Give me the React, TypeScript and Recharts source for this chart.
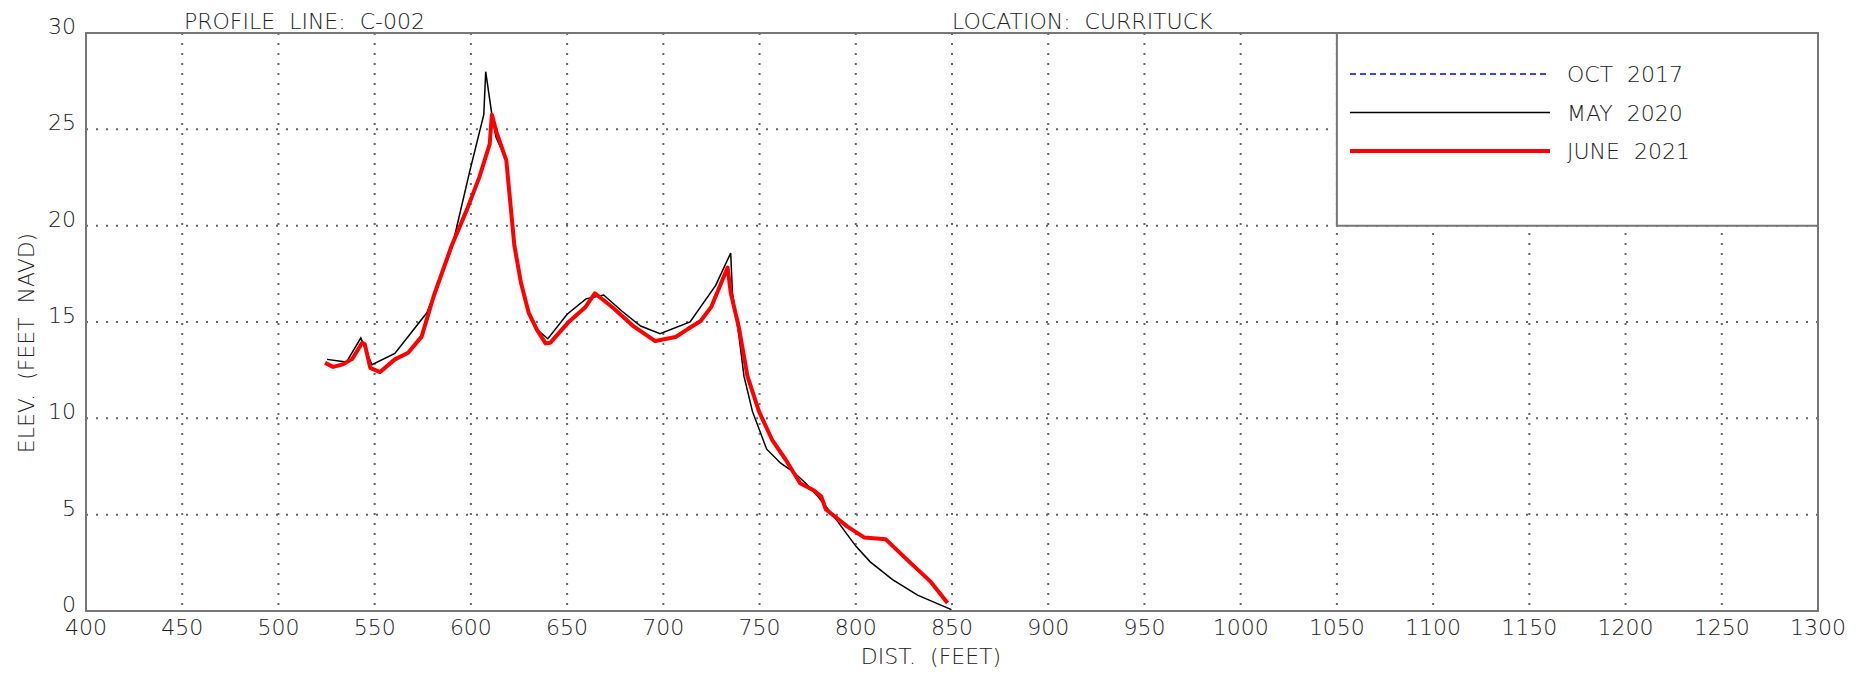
import React from 'react';
import { CartesianGrid, Line, LineChart, ReferenceArea, XAxis, YAxis } from 'recharts';

// axis ticks
const distTicks = [400, 450, 500, 550, 600, 650, 700, 750, 800, 850, 900, 950, 1000, 1050, 1100, 1150, 1200, 1250, 1300];
const elevTicks = [0, 5, 10, 15, 20, 25, 30];

// MAY 2020 survey
const may2020Dist = [
  525.3, 535.3, 542.8, 548.6, 560.5, 577.2, 590, 599.3, 606.7, 607.7, 611, 613, 618.4, 622.6, 626, 630, 634.5, 640,
  650, 659.8, 669, 678.4, 688.2, 698.3, 713.9, 727.2, 735, 735.9, 739.3, 741.9, 746.3, 753.7, 761, 767.9, 774, 780.1,
  788.7, 800, 807.5, 819.1, 832.1, 849.7
];
const may2020Elev = [
  13.06, 12.92, 14.17, 12.78, 13.37, 15.49, 18.8, 22.78, 25.76, 27.99, 25.7, 24.6, 23.4, 19.0, 17.1, 15.5, 14.6, 14.13,
  15.4, 16.2, 16.4, 15.57, 14.79, 14.39, 15.0, 16.9, 18.58, 16.53, 14.27, 12.19, 10.36, 8.4, 7.67, 7.19, 6.63, 5.97,
  4.9, 3.37, 2.55, 1.63, 0.82, 0.07
];

// JUNE 2021 survey
const june2021Dist = [
  524.2, 528.4, 533.5, 538.4, 543.5, 544.9, 547.7, 552.8, 560.5, 567.4, 574.4, 580.7, 590, 598.1, 604.4, 609.8, 610.9,
  613.3, 618.4, 622.6, 626, 630, 634.2, 638.8, 641.2, 650.5, 659.3, 664.4, 673.7, 684.2, 695.8, 706.4, 712.5, 719.4,
  725, 733.4, 735, 739.3, 743.7, 749.7, 756.7, 763.6, 771.1, 778.3, 782.1, 784.4, 795.7, 804.3, 815.6, 826.9, 839, 847.7
];
const june2021Elev = [
  12.88, 12.67, 12.8, 13.09, 13.92, 13.84, 12.62, 12.4, 13.06, 13.4, 14.24, 16.35, 18.96, 20.87, 22.52, 24.25, 25.76,
  24.86, 23.39, 18.96, 17.05, 15.49, 14.62, 13.89, 13.92, 14.97, 15.75, 16.49, 15.75, 14.8, 14.01, 14.22, 14.62, 15.05,
  15.8, 17.83, 16.53, 14.7, 12.19, 10.36, 8.85, 7.85, 6.63, 6.25, 5.94, 5.28, 4.38, 3.82, 3.72, 2.64, 1.51, 0.42
];

const legendNames = ['OCT  2017', 'MAY  2020', 'JUNE  2021'];

const FONT = 'DejaVu Sans';
const TEXT = '#222';
const FRAME = '#777';

const toPoints = (dist: number[], elev: number[]) => dist.map((d, i) => ({ dist: d, elev: elev[i] }));

const legendStyles = [
  { color: '#0000ff', width: 1.5, dash: '6 4' },
  { color: '#000000', width: 1.5, dash: undefined },
  { color: '#ff0000', width: 4, dash: undefined }
];

const XTick = ({ x, y, payload }: any) => (
  <text x={x} y={y + 24} textAnchor="middle" fill={TEXT} fontSize={22} fontWeight={200} fontFamily={FONT}>
    {payload.value}
  </text>
);

const YTick = ({ x, y, payload }: any) => (
  <text x={x - 10} y={y + 1} textAnchor="end" fill={TEXT} fontSize={22} fontWeight={200} fontFamily={FONT}>
    {payload.value}
  </text>
);

export default function App() {
  const may2020 = toPoints(may2020Dist, may2020Elev);
  const june2021 = toPoints(june2021Dist, june2021Elev);
  const textStyle = { whiteSpace: 'pre' as const };

  return (
    <div style={{ position: 'relative', width: 1850, height: 668 }}>
      <LineChart width={1850} height={668} margin={{ top: 25, right: 40, left: 0, bottom: 0 }}>
        <CartesianGrid stroke="#666" strokeWidth={2} strokeDasharray="2 8" />
        <XAxis
          type="number"
          dataKey="dist"
          domain={[400, 1300]}
          ticks={distTicks}
          height={65}
          tickSize={0}
          tickMargin={0}
          tickLine={false}
          axisLine={false}
          tick={<XTick />}
          allowDataOverflow
        />
        <YAxis
          type="number"
          dataKey="elev"
          domain={[0, 30]}
          ticks={elevTicks}
          width={78}
          tickSize={0}
          tickMargin={0}
          tickLine={false}
          axisLine={false}
          tick={<YTick />}
          allowDataOverflow
        />
        <ReferenceArea x1={1050} x2={1300} y1={20} y2={30} fill="#fff" fillOpacity={1} stroke={FRAME} strokeWidth={2} />
        <Line
          data={may2020}
          dataKey="elev"
          name="MAY 2020"
          stroke="#000"
          strokeWidth={1.5}
          dot={false}
          isAnimationActive={false}
        />
        <Line
          data={june2021}
          dataKey="elev"
          name="JUNE 2021"
          stroke="#ff0000"
          strokeWidth={4}
          strokeLinejoin="round"
          dot={false}
          isAnimationActive={false}
        />
        <ReferenceArea x1={400} x2={1300} y1={0} y2={30} fill="none" stroke={FRAME} strokeWidth={2} />
      </LineChart>
      <svg
        width={1850}
        height={668}
        style={{ position: 'absolute', left: 0, top: 0, pointerEvents: 'none', overflow: 'visible' }}
        fontFamily={FONT}
        fontSize={22}
        fontWeight={200}
        fill={TEXT}
      >
        <text x={176} y={21} style={textStyle}>PROFILE  LINE:  C-002</text>
        <text x={944} y={21} style={textStyle}>LOCATION:  CURRITUCK</text>
        <text x={26} y={335} textAnchor="middle" transform="rotate(-90 26 335)" style={textStyle}>
          ELEV.  (FEET  NAVD)
        </text>
        <text x={923} y={656} textAnchor="middle" style={textStyle}>DIST.  (FEET)</text>
        {legendNames.map((name, i) => (
          <g key={name}>
            <line
              x1={1342}
              x2={1542}
              y1={66 + i * 38.5}
              y2={66 + i * 38.5}
              stroke={legendStyles[i].color}
              strokeWidth={legendStyles[i].width}
              strokeDasharray={legendStyles[i].dash}
            />
            <text x={1559} y={74 + i * 38.5} style={textStyle}>{name}</text>
          </g>
        ))}
      </svg>
    </div>
  );
}
